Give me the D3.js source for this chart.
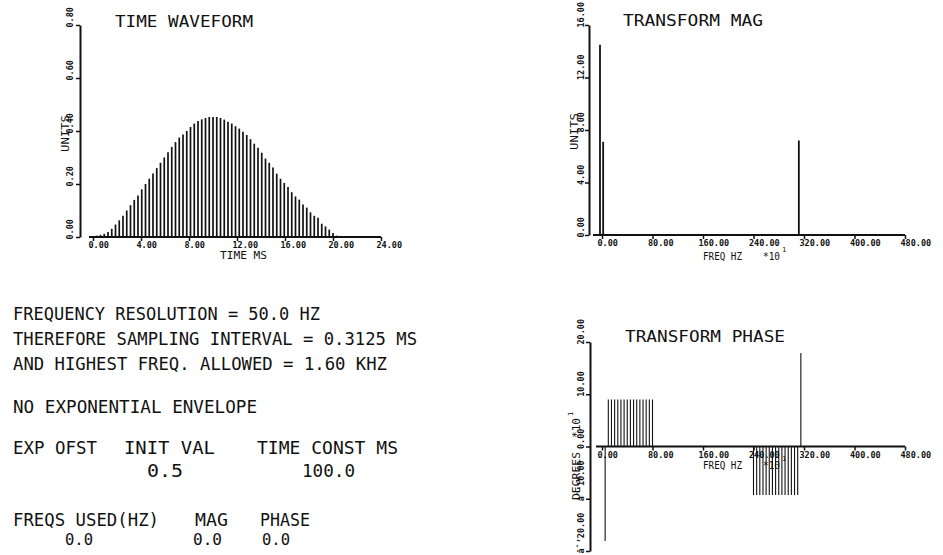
<html>
<head>
<title>Transform plots</title>
<script src="https://cdn.jsdelivr.net/npm/d3@7"></script>
<style>
body { margin: 0; background: #fff; }
text { font-family: "DejaVu Sans Mono", monospace; fill: #111; }
.tick text { font-weight: bold; font-size: 8.5px; }
.domain { stroke: #111; stroke-width: 2; }
.tick line { stroke: #111; stroke-width: 1.5; }
</style>
</head>
<body>
<svg id="chart" width="943" height="555"></svg>
<script>
// time waveform samples (units), one every sampleInterval ms
const sampleInterval = 0.3125;
const waveValues = [0.004, 0.005, 0.008, 0.012, 0.019, 0.031, 0.047, 0.063, 0.080, 0.100,
    0.120, 0.140, 0.157, 0.180, 0.200, 0.220, 0.240, 0.260, 0.280, 0.300,
    0.320, 0.340, 0.358, 0.375, 0.387, 0.400, 0.415, 0.428, 0.438, 0.444,
    0.449, 0.453, 0.453, 0.453, 0.449, 0.443, 0.435, 0.428, 0.418, 0.409,
    0.397, 0.385, 0.369, 0.352, 0.337, 0.318, 0.296, 0.280, 0.262, 0.239,
    0.220, 0.204, 0.189, 0.169, 0.153, 0.141, 0.123, 0.111, 0.093, 0.080,
    0.073, 0.050, 0.040, 0.028, 0.015, 0.005];
const waveXTicks = [0, 4, 8, 12, 16, 20, 24];
const waveYTicks = [0, 0.2, 0.4, 0.6, 0.8];

// transform magnitude (freq in Hz x10)
const magFreqs = [0, 5, 315];
const magValues = [14.5, 7.1, 7.2];
const magYTicks = [0, 4, 8, 12, 16];

// transform phase (degrees x10)
const phaseFreqs = [5, 10, 15, 20, 25, 30, 35, 40, 45, 50, 55, 60, 65, 70, 75, 80,
    240, 245, 250, 255, 260, 265, 270, 275, 280, 285, 290, 295, 300, 305, 310, 315];
const phaseValues = [-18.1, 9.0, 9.0, 9.0, 9.0, 9.0, 9.0, 9.0, 9.0, 9.0, 9.0, 9.0, 9.0, 9.0, 9.0, 9.0,
    -9.3, -9.3, -9.3, -9.3, -9.3, -9.3, -9.3, -9.3, -9.3, -9.3, -9.3, -9.3, -9.3, -9.3, -9.3, 17.9];
const phaseYTicks = [-20, -10, 0, 10, 20];
const freqTicks = [0, 80, 160, 240, 320, 400, 480];

const svg = d3.select("#chart");
svg.append("rect").attr("width", 943).attr("height", 555).attr("fill", "#fff");
const fmt = d3.format(".2f");

function yAxis(x, scale, ticks, off) {
    let g = svg.append("g").attr("transform", "translate(" + x + ",0)")
        .call(d3.axisLeft(scale).tickValues(ticks).tickFormat(fmt).tickSize(4).tickSizeOuter(0));
    // labels read upward, starting just below their tick
    g.selectAll(".tick text")
        .attr("transform", "rotate(-90)")
        .attr("x", -2).attr("y", -off).attr("dy", null)
        .attr("text-anchor", "start");
    return g;
}
function xAxis(y, scale, ticks, startX) {
    let g = svg.append("g").attr("transform", "translate(0," + y + ")")
        .call(d3.axisBottom(scale).tickValues(ticks).tickFormat(fmt).tickSize(4).tickSizeOuter(0));
    g.select(".domain").attr("d", "M" + startX + ",0H" + scale.range()[1]);
    g.selectAll(".tick text").attr("text-anchor", "start")
        .attr("x", -5).attr("y", 11).attr("dy", null);
    return g;
}
function label(x, y, str, size, len, rot) {
    let t = svg.append("text").attr("font-size", size).text(str);
    if (rot) t.attr("transform", "translate(" + x + "," + y + ") rotate(-90)");
    else t.attr("x", x).attr("y", y);
    if (len) t.attr("textLength", len).attr("lengthAdjust", "spacingAndGlyphs");
    return t;
}

// ---- time waveform ----
const xT = d3.scaleLinear().domain([0, 24]).range([93, 381]);
const yT = d3.scaleLinear().domain([0, 0.8]).range([237, 25]);
svg.append("g").selectAll("line").data(waveValues).join("line")
    .attr("x1", (d, i) => xT(i * sampleInterval)).attr("x2", (d, i) => xT(i * sampleInterval))
    .attr("y1", yT(0)).attr("y2", d => yT(d))
    .attr("stroke", "#111").attr("stroke-width", 1.7);
yAxis(80, yT, waveYTicks, 7);
xAxis(yT(0), xT, waveXTicks, 89);
label(115, 27, "TIME WAVEFORM", 16, 138);
label(220, 259, "TIME MS", 11, 47);
label(69, 152, "UNITS", 11, 37, true);

// ---- transform magnitude ----
const xM = d3.scaleLinear().domain([0, 480]).range([602, 905]);
const yM = d3.scaleLinear().domain([0, 16]).range([235, 25]);
svg.append("g").selectAll("line").data(magValues).join("line")
    .attr("x1", (d, i) => xM(magFreqs[i]) - 2).attr("x2", (d, i) => xM(magFreqs[i]) - 2)
    .attr("y1", yM(0)).attr("y2", d => yM(d))
    .attr("stroke", "#111").attr("stroke-width", 1.8);
yAxis(589, yM, magYTicks, 5);
xAxis(yM(0), xM, freqTicks, 593);
label(623, 26, "TRANSFORM MAG", 16, 140);
label(703, 260, "FREQ HZ", 11, 39);
label(763, 260, "*10", 11, 17);
label(782, 252, "1", 7);
label(578, 150, "UNITS", 11, 37, true);

// ---- transform phase ----
const xP = d3.scaleLinear().domain([0, 480]).range([602, 905]);
const yP = d3.scaleLinear().domain([-20, 20]).range([551, 342]);
svg.append("g").selectAll("line").data(phaseValues).join("line")
    .attr("x1", (d, i) => xP(phaseFreqs[i])).attr("x2", (d, i) => xP(phaseFreqs[i]))
    .attr("y1", yP(0)).attr("y2", d => yP(d))
    .attr("stroke", "#111").attr("stroke-width", 1.1);
yAxis(590, yP, phaseYTicks, 6);
xAxis(yP(0), xP, freqTicks, 596);
label(625, 342, "TRANSFORM PHASE", 16, 160);
label(703, 469, "FREQ HZ", 11, 39);
label(763, 469, "*10", 11, 17);
label(782, 461, "1", 7);
label(580, 500, "DEGREES", 11, 48, true);
label(580, 438, "*10", 11, 20, true);
label(573, 416, "1", 7, null, true);

// ---- text block ----
label(13, 320, "FREQUENCY RESOLUTION = 50.0 HZ", 17, 307);
label(13, 345, "THEREFORE SAMPLING INTERVAL = 0.3125 MS", 17, 404);
label(13, 370, "AND HIGHEST FREQ. ALLOWED = 1.60 KHZ", 17, 374);
label(13, 413, "NO EXPONENTIAL ENVELOPE", 17, 244);
label(13, 454, "EXP OFST", 17, 84);
label(124, 454, "INIT VAL", 17, 91);
label(257, 454, "TIME CONST MS", 17, 141);
label(147, 477, "0.5", 17, 36);
label(302, 477, "100.0", 17, 53);
label(13, 526, "FREQS USED(HZ)", 17, 146);
label(195, 526, "MAG", 17, 33);
label(260, 526, "PHASE", 17, 50);
label(65, 544.5, "0.0", 15, 28);
label(193, 544.5, "0.0", 15, 29);
label(262, 544.5, "0.0", 15, 28);
</script>
</body>
</html>
